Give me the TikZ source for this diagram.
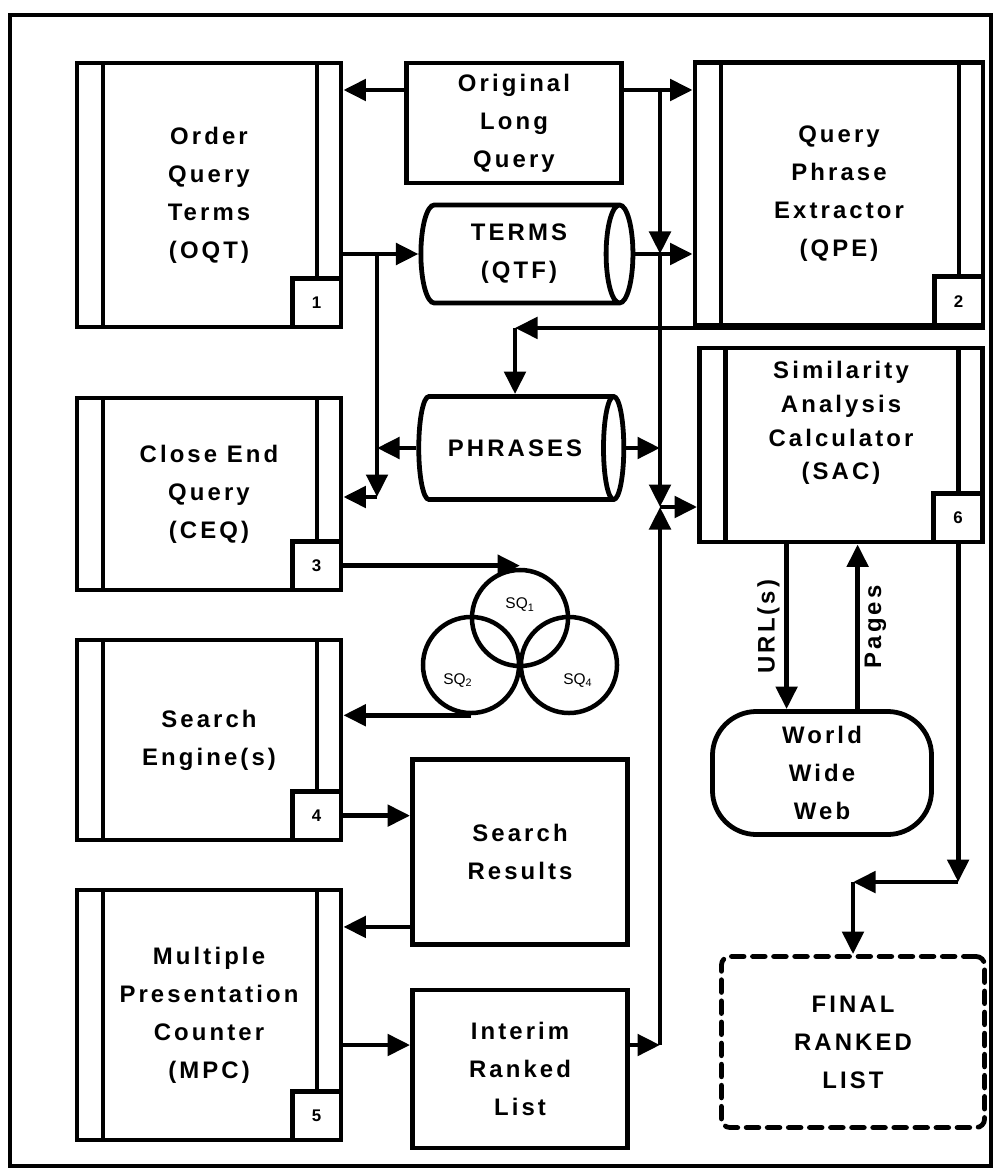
\documentclass[tikz,border=0pt]{standalone}
\usepackage{fontspec}
\setmainfont{Liberation Sans}
\newfontfamily\wideface[LetterSpace=13]{Liberation Sans}
\usetikzlibrary{arrows.meta,calc,positioning,shapes.geometric}
\tikzset{
  wire/.style={line width=3.4pt},
  flow/.style={wire,-{Triangle[length=16pt,width=15pt]}},
  lbl/.style={align=center,font=\wideface\bfseries\fontsize{17}{27}\selectfont},
  box/.style={lbl,draw,line width=3.4pt,fill=white,inner sep=2pt},
  procbox/.style={box,path picture={
      \draw[line width=3.4pt] ([xshift=0.65cm]path picture bounding box.north west)
        -- ([xshift=0.65cm]path picture bounding box.south west);
      \draw[line width=3.4pt] ([xshift=-0.6cm]path picture bounding box.north east)
        -- ([xshift=-0.6cm,yshift=1.2cm]path picture bounding box.south east);}},
  numbox/.style={draw,line width=3.4pt,fill=white,minimum size=1.22cm,inner sep=0pt,
                 font=\bfseries\fontsize{12}{12}\selectfont},
  store/.style={box,cylinder,aspect=0.45,inner sep=0pt},
  sqcircle/.style={circle,draw,line width=3.2pt,minimum size=2.4cm,inner sep=0pt},
  sqlabel/.style={font=\fontsize{11}{11}\selectfont,inner sep=0pt},
  webbox/.style={box,rounded corners=1.1cm},
  finalbox/.style={box,dash pattern=on 9pt off 6pt,line cap=round,rounded corners=6pt}
}
\begin{document}
\begin{tikzpicture}[x=0.025cm,y=-0.025cm]
  \useasboundingbox (0,0) rectangle (998,1174);
  \draw[line width=2.8pt] (10,15) rectangle (991,1166);

  % process boxes
  \node[procbox,minimum width=6.6cm,minimum height=6.6cm] (oqt) at (209,195) {Order\\Query\\Terms\\(OQT)};
  \node[numbox,anchor=south east] (n1) at (oqt.south east) {1};
  \node[procbox,minimum width=7.2cm,minimum height=6.575cm] (qpe) at (839,194) {Query\\Phrase\\Extractor\\(QPE)};
  \node[numbox,anchor=south east] (n2) at (qpe.south east) {2};
  \node[procbox,minimum width=6.6cm,minimum height=4.8cm] (ceq) at (209,494) {Close End\\Query\\(CEQ)};
  \node[numbox,anchor=south east] (n3) at (ceq.south east) {3};
  \node[procbox,minimum width=6.6cm,minimum height=5cm] (se) at (209,740) {Search\\Engine(s)};
  \node[numbox,anchor=south east] (n4) at (se.south east) {4};
  \node[procbox,minimum width=6.6cm,minimum height=6.25cm] (mpc) at (209,1015) {Multiple\\Presentation\\Counter\\(MPC)};
  \node[numbox,anchor=south east] (n5) at (mpc.south east) {5};
  \node[procbox,minimum width=7.075cm,minimum height=4.85cm,
        label={[lbl,yshift=0.55cm,font=\wideface\bfseries\fontsize{17}{24}\selectfont]center:Similarity\\Analysis\\Calculator\\(SAC)}] (sac) at (841,445) {};
  \node[numbox,anchor=south east] (n6) at (sac.south east) {6};

  % plain boxes and stores
  \node[box,minimum width=5.375cm,minimum height=3cm] (olq) at (514,123) {Original\\Long\\Query};
  \node[store,minimum width=2.45cm,minimum height=5.3cm] (terms) at (519,254) {TERMS\\(QTF)};
  \node[store,aspect=1.2,minimum width=2.575cm,minimum height=5.125cm] (phrases) at (515,448) {PHRASES};
  \node[box,minimum width=5.375cm,minimum height=4.625cm] (sr) at (520,852) {Search\\Results};
  \node[box,minimum width=5.375cm,minimum height=3.95cm] (ir) at (520,1069) {Interim\\Ranked\\List};
  \node[webbox,minimum width=5.475cm,minimum height=3.075cm] (www) at (822,773) {World\\Wide\\Web};
  \node[finalbox,minimum width=6.575cm,minimum height=4.275cm] (fin) at (853,1042) {FINAL\\RANKED\\LIST};

  % sub queries
  \node[sqcircle,label={[sqlabel,yshift=0.33cm]center:SQ\textsubscript{1}}] (sq1) at (520,618) {};
  \node[sqcircle,label={[sqlabel,xshift=-0.33cm,yshift=-0.38cm]center:SQ\textsubscript{2}}] (sq2) at (471,665) {};
  \node[sqcircle,label={[sqlabel,xshift=0.22cm,yshift=-0.38cm]center:SQ\textsubscript{4}}] (sq4) at (569,665) {};

  % junction points
  \coordinate (jTop) at (660,90);
  \coordinate (jTerms) at (660,254);
  \coordinate (jSac) at (660,507);
  \coordinate (jIr) at (660,1045);
  \coordinate (jLeft) at (377,254);
  \coordinate (jCeq) at (377,497);
  \coordinate (jQpe) at (n2.south east -| phrases.north);
  \coordinate (jFin) at ([yshift=1.8cm]fin.north);

  % connectors
  \draw[flow] (olq.west |- jTop) -- (oqt.east |- jTop);
  \draw[flow] (olq.east |- jTop) -- (qpe.west |- jTop);
  \draw[flow] (jTop) -- (jTerms);
  \draw[flow] (jTerms) -- (jSac);
  \draw[flow] (jSac) -- (sac.west |- jSac);
  \draw[flow] (oqt.east |- terms.west) -- (terms.west);
  \draw[flow] (terms.east) -- (qpe.west |- terms.east);
  \draw[flow] (jLeft) -- (jCeq);
  \draw[flow] (jCeq) -- (ceq.east |- jCeq);
  \draw[flow] (phrases.west) -- (jCeq |- phrases.west);
  \draw[flow] (phrases.east) -- (jSac |- phrases.east);
  \draw[flow] (n2.south east) -- (jQpe);
  \draw[flow] (jQpe) -- (phrases.north);
  \draw[flow] (n3.east) -- (n3.east -| sq1.north);
  \draw[flow] (sq2.south) -- (sq2.south -| se.east);
  \draw[flow] (n4.east) -- (n4.east -| sr.west);
  \draw[flow] ([yshift=0.5cm]sr.south west) -- ([yshift=0.5cm]sr.south west -| mpc.east);
  \draw[flow] (mpc.east |- jIr) -- (ir.west |- jIr);
  \draw[flow] (ir.east |- jIr) -- (jIr);
  \draw[flow] (jIr) -- (jSac);
  \draw[flow] ([xshift=-1.36cm]sac.south) -- ([xshift=-1.36cm]sac.south |- www.north)
    node[lbl,midway,rotate=90,anchor=south] {URL(s)};
  \draw[flow] ([xshift=0.89cm]www.north) -- ([xshift=0.89cm]www.north |- sac.south)
    node[lbl,midway,rotate=90,anchor=north] {Pages};
  \draw[flow] (n6.south) -- (n6.south |- jFin);
  \draw[flow] (n6.south |- jFin) -- (jFin);
  \draw[flow] (jFin) -- (fin.north);
\end{tikzpicture}
\end{document}
